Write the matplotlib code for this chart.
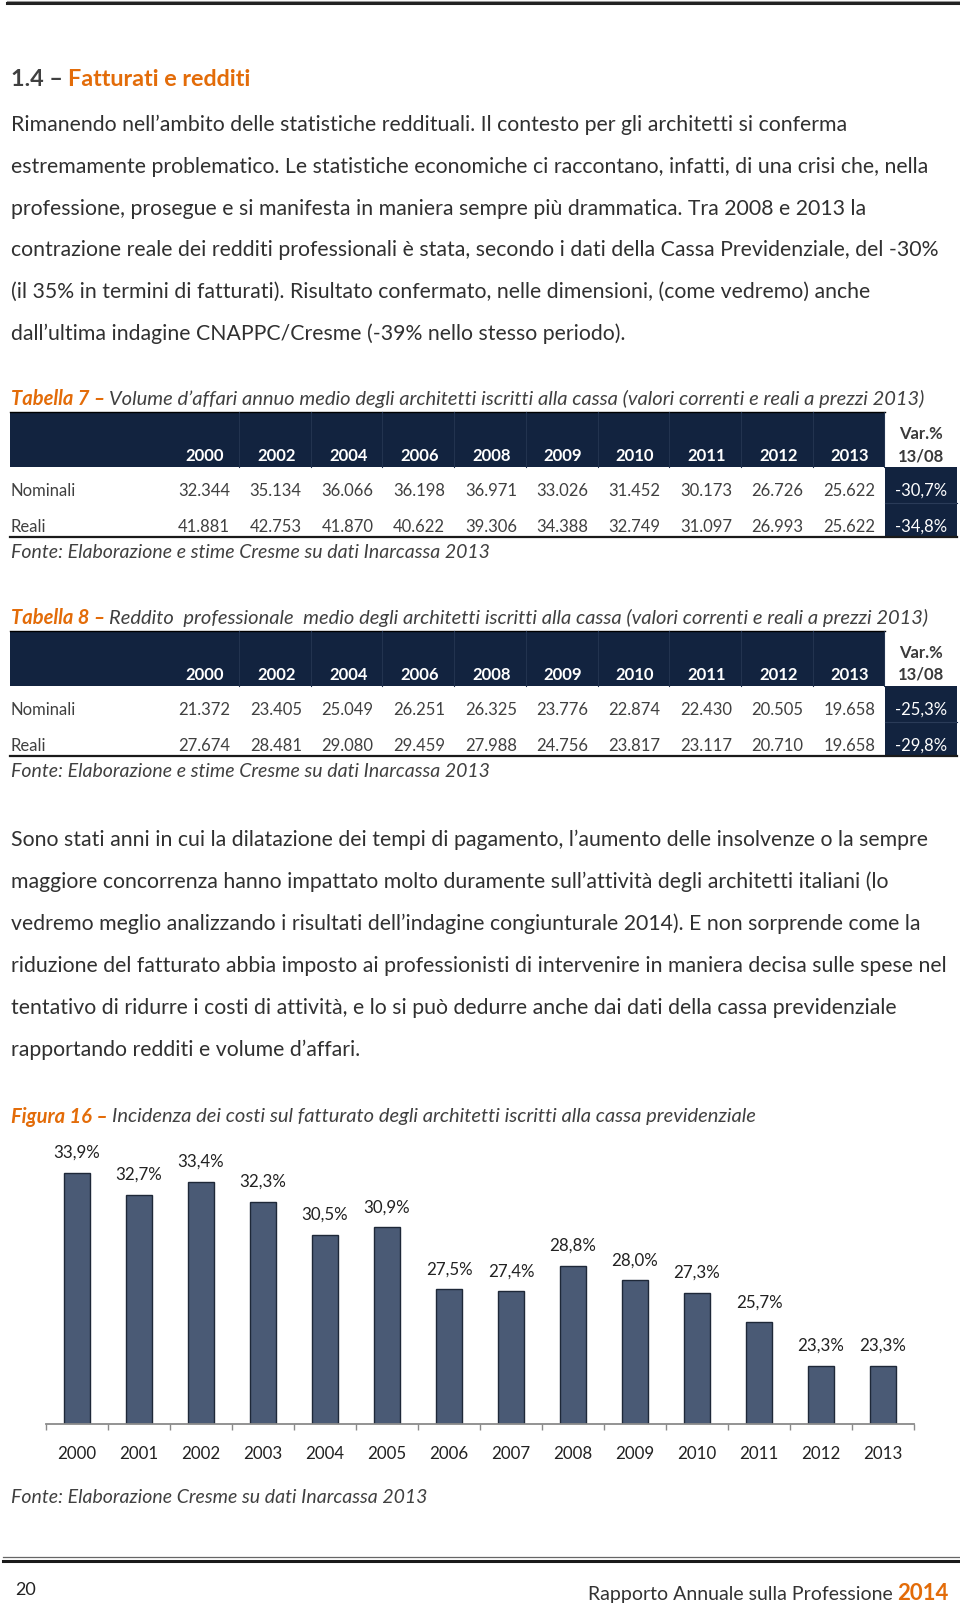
import matplotlib
matplotlib.use("Agg")
import matplotlib.pyplot as plt
from matplotlib.patches import Rectangle

plt.rcParams['font.family'] = ['Lato', 'DejaVu Sans']

ORANGE = "#E36C09"
NAVY = "#12233f"
TXT = "#303030"
GREY = "#404040"

# ---- data ----
tab_years = ["2000", "2002", "2004", "2006", "2008", "2009", "2010", "2011", "2012", "2013"]
t7_nominali = [32344, 35134, 36066, 36198, 36971, 33026, 31452, 30173, 26726, 25622]
t7_reali = [41881, 42753, 41870, 40622, 39306, 34388, 32749, 31097, 26993, 25622]
t7_var = [-30.7, -34.8]
t8_nominali = [21372, 23405, 25049, 26251, 26325, 23776, 22874, 22430, 20505, 19658]
t8_reali = [27674, 28481, 29080, 29459, 27988, 24756, 23817, 23117, 20710, 19658]
t8_var = [-25.3, -29.8]

fig_years = ["2000", "2001", "2002", "2003", "2004", "2005", "2006",
             "2007", "2008", "2009", "2010", "2011", "2012", "2013"]
incidenza = [33.9, 32.7, 33.4, 32.3, 30.5, 30.9, 27.5, 27.4, 28.8, 28.0, 27.3, 25.7, 23.3, 23.3]

para1 = [
    "Rimanendo nell\u2019ambito delle statistiche reddituali. Il contesto per gli architetti si conferma",
    "estremamente problematico. Le statistiche economiche ci raccontano, infatti, di una crisi che, nella",
    "professione, prosegue e si manifesta in maniera sempre pi\u00f9 drammatica. Tra 2008 e 2013 la",
    "contrazione reale dei redditi professionali \u00e8 stata, secondo i dati della Cassa Previdenziale, del -30%",
    "(il 35% in termini di fatturati). Risultato confermato, nelle dimensioni, (come vedremo) anche",
    "dall\u2019ultima indagine CNAPPC/Cresme (-39% nello stesso periodo).",
]
para2 = [
    "Sono stati anni in cui la dilatazione dei tempi di pagamento, l\u2019aumento delle insolvenze o la sempre",
    "maggiore concorrenza hanno impattato molto duramente sull\u2019attivit\u00e0 degli architetti italiani (lo",
    "vedremo meglio analizzando i risultati dell\u2019indagine congiunturale 2014). E non sorprende come la",
    "riduzione del fatturato abbia imposto ai professionisti di intervenire in maniera decisa sulle spese nel",
    "tentativo di ridurre i costi di attivit\u00e0, e lo si pu\u00f2 dedurre anche dai dati della cassa previdenziale",
    "rapportando redditi e volume d\u2019affari.",
]

W, H = 960, 1606
fig = plt.figure(figsize=(W / 100, H / 100), dpi=100)
ax = fig.add_axes([0, 0, 1, 1])
ax.set_xlim(0, W)
ax.set_ylim(H, 0)
ax.axis("off")
r = fig.canvas.get_renderer()


def run(x, y, parts, gap=4, va="center"):
    # draws text pieces one after the other on the same line
    for s, kw in parts:
        t = ax.text(x, y, s, va=va, ha="left", **kw)
        x += t.get_window_extent(r).width + gap
    return x


def fmt(v):
    return f"{v:,}".replace(",", ".")


def pct(v):
    return f"{v:.1f}%".replace(".", ",")


BODY = 15.3
CAP = 14.5
SRC = 14.0
CELL = 12.0

# top rule
ax.plot([7, W], [1.5, 1.5], color="#9a9a9a", lw=0.8)
ax.plot([7, W], [4.2, 4.2], color="#222222", lw=2.2)

run(11, 80, [("1.4 \u2013", dict(fontsize=16.8, fontweight="bold", color="#404040")),
             ("Fatturati e redditi", dict(fontsize=16.8, fontweight="bold", color=ORANGE))], gap=5)

for i, line in enumerate(para1):
    ax.text(11, 125 + i * 41.8, line, fontsize=BODY, color=TXT, va="center")


def table(top, caption_n, caption, nominali, reali, var):
    run(11, top - 14, [(f"Tabella {caption_n} \u2013", dict(fontsize=CAP, fontweight="bold", style="italic", color=ORANGE)),
                       (caption, dict(fontsize=CAP, style="italic", color=GREY))], gap=4)
    band_b = top + 55
    ax.add_patch(Rectangle((10, top), 875, 55, color=NAVY, lw=0))
    ax.plot([10, 885], [top, top], color="#000000", lw=1)
    rights = [230 + 71.7 * i for i in range(len(tab_years))]
    for i, yr in enumerate(tab_years):
        ax.plot([rights[i] + 9, rights[i] + 9], [top, band_b], color="#22334f", lw=0.8)
        ax.text(rights[i] - 6, top + 43, yr, fontsize=CELL, fontweight="bold", color="white", ha="right", va="center")
        ax.text(rights[i], band_b + 23, fmt(nominali[i]), fontsize=CELL, color=GREY, ha="right", va="center")
        ax.text(rights[i], band_b + 59, fmt(reali[i]), fontsize=CELL, color=GREY, ha="right", va="center")
    ax.text(921, top + 21, "Var.%", fontsize=CELL, fontweight="bold", color="#3a3a3a", ha="center", va="center")
    ax.text(921, top + 43, "13/08", fontsize=CELL, fontweight="bold", color="#3a3a3a", ha="center", va="center")
    ax.add_patch(Rectangle((885, band_b), 72, 70, color=NAVY, lw=0))
    ax.plot([885, 957], [band_b + 36, band_b + 36], color="#2a3b58", lw=0.8)
    ax.text(921, band_b + 23, pct(var[0]), fontsize=CELL, color="white", ha="center", va="center")
    ax.text(921, band_b + 59, pct(var[1]), fontsize=CELL, color="white", ha="center", va="center")
    ax.text(11, band_b + 23, "Nominali", fontsize=CELL, color=GREY, va="center")
    ax.text(11, band_b + 59, "Reali", fontsize=CELL, color=GREY, va="center")
    ax.plot([10, 957], [band_b + 70, band_b + 70], color="#1a1a1a", lw=1.6)
    ax.text(11, band_b + 85, "Fonte: Elaborazione e stime Cresme su dati Inarcassa 2013",
            fontsize=SRC, style="italic", color=GREY, va="center")


table(413, 7, "Volume d\u2019affari annuo medio degli architetti iscritti alla cassa (valori correnti e reali a prezzi 2013)",
      t7_nominali, t7_reali, t7_var)
table(632, 8, "Reddito  professionale  medio degli architetti iscritti alla cassa (valori correnti e reali a prezzi 2013)",
      t8_nominali, t8_reali, t8_var)

for i, line in enumerate(para2):
    ax.text(11, 840 + i * 42, line, fontsize=BODY, color=TXT, va="center")

run(11, 1117, [("Figura 16 \u2013", dict(fontsize=CAP, fontweight="bold", style="italic", color=ORANGE)),
               ("Incidenza dei costi sul fatturato degli architetti iscritti alla cassa previdenziale",
                dict(fontsize=CAP, style="italic", color=GREY))], gap=4)

# ---- bar chart ----
cax = fig.add_axes([46 / W, (H - 1425) / H, 868 / W, 285 / H])
x = range(len(fig_years))
cax.bar(x, incidenza, width=0.43, color="#4a5a75", edgecolor="#1e2838", linewidth=1.0)
for i, v in enumerate(incidenza):
    cax.annotate(pct(v), (i, v), xytext=(0, 15), textcoords="offset points",
                 ha="center", va="center", fontsize=12.2, color="#222222")
cax.set_xlim(-0.5, len(fig_years) - 0.5)
cax.set_ylim(20.1, 35.75)
cax.set_xticks(list(x))
cax.set_xticklabels(fig_years, fontsize=12.2, color="#222222")
cax.set_xticks([i - 0.5 for i in range(len(fig_years) + 1)], minor=True)
cax.tick_params(axis="x", which="major", length=0, pad=15)
cax.tick_params(axis="x", which="minor", length=4, width=1, color="#8a8a8a", direction="out")
cax.set_yticks([])
for s in ["top", "right", "left"]:
    cax.spines[s].set_visible(False)
cax.spines["bottom"].set_color("#8a8a8a")
cax.spines["bottom"].set_linewidth(1.3)
cax.set_facecolor("none")

ax.text(11, 1498, "Fonte: Elaborazione Cresme su dati Inarcassa 2013",
        fontsize=SRC, style="italic", color=GREY, va="center")

# footer
ax.plot([3, W], [1558, 1558], color="#666666", lw=0.9)
ax.plot([3, W], [1562, 1562], color="#1a1a1a", lw=2.2)
ax.text(15, 1595, "20", fontsize=13, color="#222222", va="baseline")
t = ax.text(948, 1600, "2014", fontsize=16, fontweight="bold", color=ORANGE, ha="right", va="baseline")
w = t.get_window_extent(r).width
ax.text(948 - w - 4, 1600, "Rapporto Annuale sulla Professione", fontsize=14, color="#333333",
        ha="right", va="baseline")

fig.savefig("out.png", dpi=100)
